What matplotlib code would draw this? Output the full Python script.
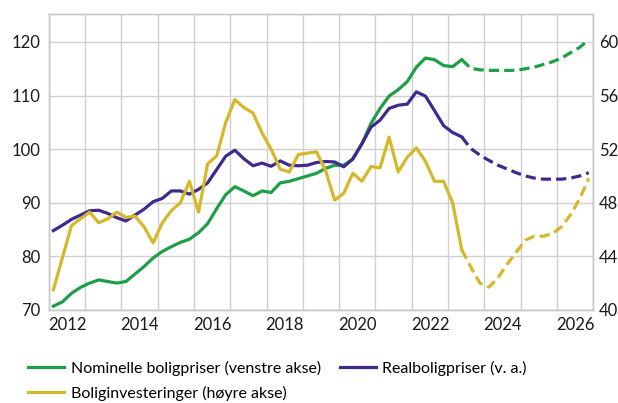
import matplotlib
matplotlib.use("Agg")
import matplotlib.pyplot as plt
import numpy as np

plt.rcParams['font.family'] = ['Lato', 'DejaVu Sans']

# quarterly data 2012Q1 - 2026Q4, forecast from 2023Q2
nominal = [70.7, 71.5, 73.1, 74.2, 75.0, 75.6, 75.3, 75.0,
           75.3, 76.7, 78.1, 79.7, 80.9, 81.8, 82.6, 83.2,
           84.4, 86.1, 88.9, 91.5, 93.0, 92.2, 91.3, 92.2,
           91.9, 93.7, 94.0, 94.5, 95.0, 95.5, 96.4, 97.0,
           97.0, 98.1, 101.0, 104.8, 107.6, 109.9, 111.1, 112.6,
           115.3, 117.0, 116.7, 115.6, 115.4, 116.7, 115.1, 114.8,
           114.7, 114.7, 114.7, 114.7, 115.0, 115.3, 115.8, 116.3,
           117.0, 118.0, 119.0, 120.4]
real = [84.8, 85.8, 86.9, 87.7, 88.5, 88.6, 88.0, 87.2,
        86.6, 87.7, 88.8, 90.2, 90.8, 92.2, 92.2, 91.6,
        92.5, 93.7, 96.2, 98.7, 99.8, 98.2, 96.9, 97.4,
        96.8, 97.8, 97.0, 96.9, 97.0, 97.5, 97.7, 97.6,
        96.7, 98.2, 101.0, 104.1, 105.4, 107.6, 108.2, 108.4,
        110.7, 109.9, 107.2, 104.4, 103.1, 102.3, 100.1, 98.9,
        97.9, 97.0, 96.3, 95.6, 95.0, 94.6, 94.4, 94.4,
        94.4, 94.6, 95.0, 95.6]
invest = [41.5, 43.9, 46.3, 46.8, 47.3, 46.5, 46.8, 47.3,
          46.9, 47.0, 46.2, 45.0, 46.5, 47.4, 48.0, 49.6,
          47.3, 50.9, 51.5, 54.0, 55.7, 55.1, 54.7, 53.2,
          52.0, 50.5, 50.3, 51.6, 51.7, 51.8, 50.4, 48.2,
          48.7, 50.2, 49.6, 50.7, 50.6, 52.9, 50.3, 51.4,
          52.1, 51.1, 49.6, 49.6, 48.0, 44.5, 43.2, 42.0,
          41.7, 42.4, 43.4, 44.3, 45.2, 45.5, 45.5, 45.7,
          46.2, 47.1, 48.3, 49.8]
last_actual = 45  # index of 2023Q2

t = 2012 + (np.arange(len(nominal)) + 0.5) / 4

green = "#1e9e46"
purple = "#3e2a8f"
yellow = "#d4b82a"
lw = 2.3
dash = (3.2, 1.6)

fig = plt.figure(figsize=(6.18, 4.03), dpi=100)
ax = fig.add_axes([0.079, 0.231, 0.881, 0.734])
ax2 = ax.twinx()

n = last_actual + 1
ax.plot(t[:n], nominal[:n], color=green, lw=lw, label="Nominelle boligpriser (venstre akse)")
ax.plot(t[last_actual:], nominal[last_actual:], color=green, lw=lw, dashes=dash)
ax.plot(t[:n], real[:n], color=purple, lw=lw, label="Realboligpriser (v. a.)")
ax.plot(t[last_actual:], real[last_actual:], color=purple, lw=lw, dashes=dash)
ax2.plot(t[:n], invest[:n], color=yellow, lw=lw, label="Boliginvesteringer (høyre akse)")
ax2.plot(t[last_actual:], invest[last_actual:], color=yellow, lw=lw, dashes=dash)

ax.set_xlim(2012, 2027)
ax.set_ylim(70, 125.2)
ax2.set_ylim(40, 62.08)
ax.set_yticks(np.arange(70, 121, 10))
ax2.set_yticks(np.arange(40, 61, 4))

ax.set_xticks(np.arange(2012, 2028, 1))
ax.set_xticklabels([])
ax.set_xticks(np.arange(2012, 2027, 2) + 0.5, minor=True)
ax.set_xticklabels([str(y) for y in range(2012, 2027, 2)], minor=True)

ax.grid(True, which="major", color="#d0d0d0", lw=1.0)
ax.set_axisbelow(True)
for a in (ax, ax2):
    for s in a.spines.values():
        s.set_color("#c8c8c8")
        s.set_linewidth(1.0)
    a.tick_params(which="both", length=0, labelsize=12, colors="#1a1a1a")
ax.tick_params(axis="x", which="minor", pad=5)
ax.tick_params(axis="y", pad=6)
ax2.tick_params(axis="y", pad=4)

h1, l1 = ax.get_legend_handles_labels()
h2, l2 = ax2.get_legend_handles_labels()
handles = [h1[0], h2[0], h1[1]]
labels = [l1[0], l2[0], l1[1]]
fig.legend(handles, labels, loc="upper left", bbox_to_anchor=(0.046, 0.105),
           ncol=2, frameon=False, fontsize=11.5, handlelength=2.25, handletextpad=0.4,
           columnspacing=1.2, labelspacing=0.62, borderaxespad=0, borderpad=0)

fig.savefig("out.png", dpi=100)
